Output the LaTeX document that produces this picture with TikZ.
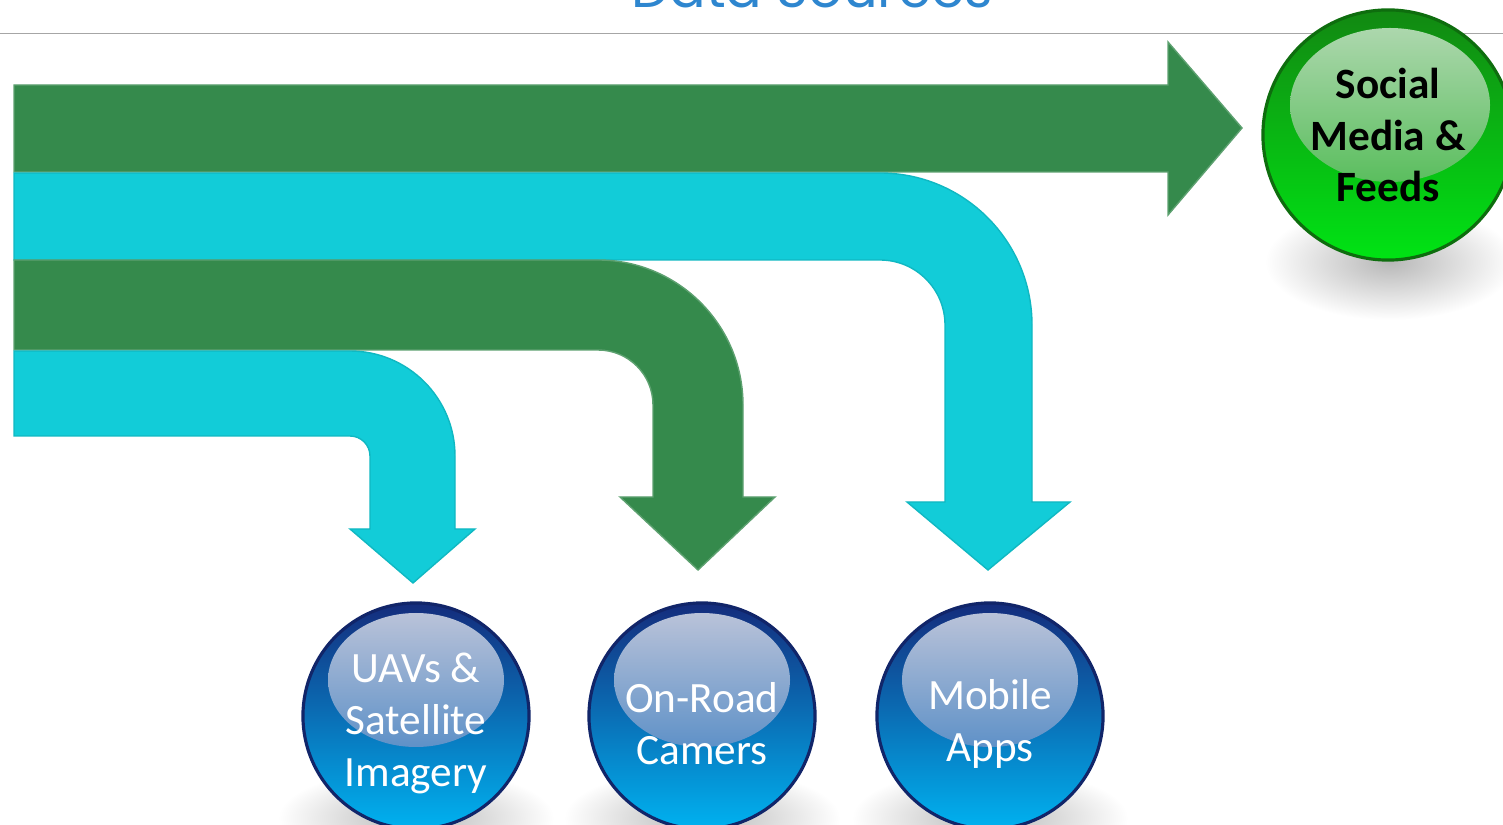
\documentclass[tikz,border=0pt]{standalone}
\usepackage{fontspec}
\setmainfont{Carlito}
\newfontfamily\titlefont{Poppins}
\usetikzlibrary{calc}

\definecolor{arrowgreen}{RGB}{53,138,76}
\definecolor{arrowcyan}{RGB}{18,204,216}
\definecolor{navy}{RGB}{20,44,124}
\definecolor{seablue}{RGB}{10,96,180}
\definecolor{skyblue}{RGB}{0,178,240}
\definecolor{glossblue}{RGB}{192,198,218}
\definecolor{leafgreen}{RGB}{18,136,18}
\definecolor{limegreen}{RGB}{0,228,20}
\definecolor{glossgreen}{RGB}{182,218,182}
\definecolor{rulegray}{RGB}{166,166,166}
\definecolor{titleblue}{RGB}{46,134,207}

\tikzset{
	ball/.style={circle, minimum size=2.26cm, inner sep=0pt, line width=0.9pt},
	balltext/.style={align=center, text=white, yshift=-2.2pt, font=\fontsize{12.3}{14.8}\selectfont},
	blueball/.style={ball, draw=navy!85!black, top color=navy, middle color=seablue, bottom color=skyblue,
		path picture={\shade[top color=glossblue, bottom color=seablue!88!white]
			($(path picture bounding box.center)+(0,36)$) ellipse (88 and 67);}},
	greenball/.style={ball, minimum size=2.5cm, draw=leafgreen!80!black, top color=leafgreen, bottom color=limegreen,
		align=center, text=black, font=\fontsize{12.3}{14.6}\selectfont\bfseries,
		path picture={\shade[top color=glossgreen, bottom color=leafgreen!70!limegreen!85!white]
			($(path picture bounding box.center)+(2,30)$) ellipse (100 and 77);}},
	greenarrow/.style={fill=arrowgreen, draw=arrowgreen!80!white, line width=0.4pt},
	cyanarrow/.style={fill=arrowcyan, draw=arrowcyan!90!black, line width=0.4pt},
	shadow/.style={inner color=black!28, outer color=white},
}

\begin{document}
\begin{tikzpicture}[x=0.01cm, y=0.01cm]
	%%%%% START %%%%%
	\useasboundingbox (0,0) rectangle (1503,-825);
	
	\node[font=\titlefont\fontsize{15.4}{18}\selectfont, text=titleblue, anchor=base] (title) at (812,-8) {Data Sources};
	\draw[rulegray, line width=0.5pt] (0,-33.5) -- (1503,-33.5);
	
	% straight arrow on top
	\draw[greenarrow] (14,-85) -- (1168,-85) -- (1168,-42) -- (1242,-128) -- (1168,-215) -- (1168,-172) -- (14,-172) -- cycle;
	
	% bent arrows, outer one first
	\draw[cyanarrow] (14,-173) -- (880,-173) arc (90:0:152) -- (1032,-502) -- (1070,-502) -- (988,-570)
		-- (907,-502) -- (945,-502) -- (945,-325) arc (0:90:65) -- (14,-260) -- cycle;
	\draw[greenarrow] (14,-260) -- (598,-260) arc (90:0:145) -- (743,-497) -- (775,-497) -- (698,-570)
		-- (620,-497) -- (653,-497) -- (653,-405) arc (0:90:55) -- (14,-350) -- cycle;
	\draw[cyanarrow] (14,-351) -- (350,-351) arc (90:0:105) -- (455,-529) -- (475,-529) -- (413,-583)
		-- (350,-529) -- (370,-529) -- (370,-456) arc (0:90:20) -- (14,-436) -- cycle;
	
	% shadows under the balls
	\shade[shadow] (1390,-262) ellipse (125 and 58);
	\foreach \x in {416,702,990}
		\shade[shadow] (\x,-818) ellipse (138 and 50);
	
	\node[greenball] (social) at (1388,-135) {Social\\Media \&\\Feeds};
	\node[blueball, label={[balltext]center:{UAVs \&\\Satellite\\Imagery}}] (uav) at (416,-716) {};
	\node[blueball, label={[balltext]center:{On-Road\\Camers}}] (camera) at (702,-716) {};
	\node[blueball, label={[balltext]center:{Mobile\\Apps}}] (mobile) at (990,-716) {};
	%%%%% END %%%%%
\end{tikzpicture}
\end{document}
